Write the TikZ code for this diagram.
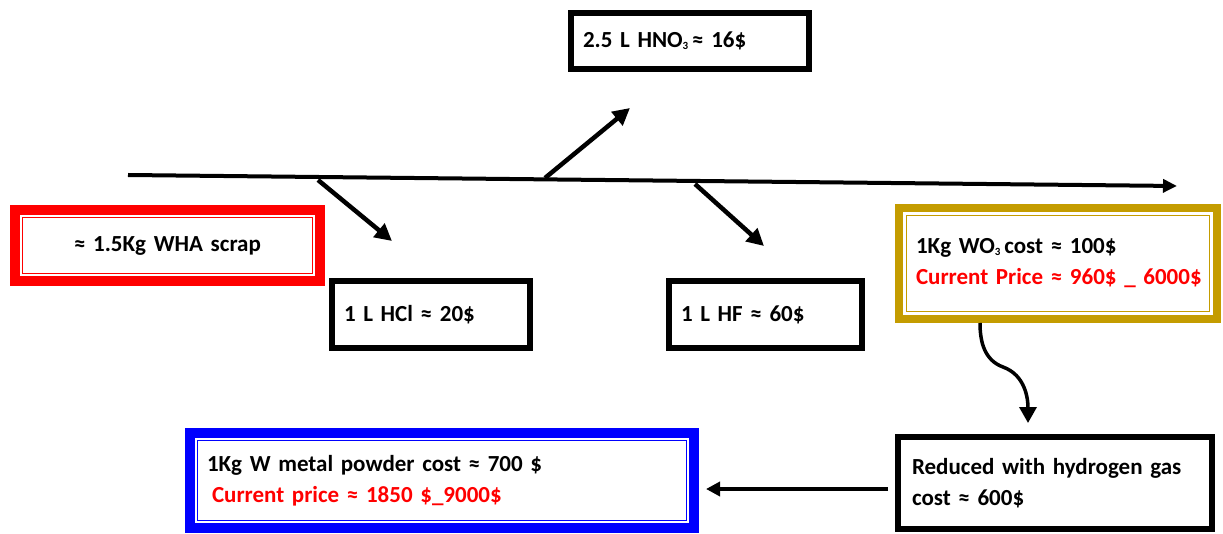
\documentclass[tikz,border=0pt]{standalone}
\usepackage{fontspec}
\setmainfont{Carlito}[WordSpace=0.8]
\usetikzlibrary{arrows.meta}
\definecolor{goldline}{RGB}{196,156,0}
\newcommand{\lowsub}[1]{\raisebox{-1.5pt}{\fontsize{11}{11}\selectfont #1}}
\begin{document}
\begin{tikzpicture}[x=1pt, y=-1pt,
	txt/.style={ align=left, font=\fontsize{23}{31}\selectfont\bfseries },
	box/.style={ txt, draw, line width=6pt, inner xsep=12pt },
	framed/.style 2 args={ txt, draw=#1, line width=#2, inner xsep=17pt,
		path picture={\draw[#1, line width=1.5pt] ([shift={(7.5pt,-7.5pt)}]path picture bounding box.north west) rectangle ([shift={(-7.5pt,7.5pt)}]path picture bounding box.south east);} },
	arr/.style={ line width=4.5pt, -{Triangle[length=17pt,width=17pt]} }
]
\useasboundingbox (0,0) rectangle (1223,534);

\node at (167.5,245.5) (wha) [framed={red}{10pt},minimum width=305pt,minimum height=71pt,text width=271pt,align=center] {≈ 1.5Kg WHA scrap};
\node at (690,41) (hno) [box,minimum width=238pt,minimum height=56pt,text width=214pt,inner xsep=12pt] {2.5 L HNO\lowsub{3}\,≈ 16\$};
\node at (431,314.5) (hcl) [box,minimum width=198pt,minimum height=67pt,text width=174pt] {1 L HCl ≈ 20\$};
\node at (765.5,314.5) (hf) [box,minimum width=193pt,minimum height=67pt,text width=169pt] {1 L HF ≈ 60\$};
\node at (1058,263.5) (wo) [framed={goldline}{8pt},minimum width=318pt,minimum height=111pt,text width=284pt] {1Kg WO\lowsub{3}\,cost ≈ 100\$\\ \mbox{\textcolor{red}{Current Price ≈ 960\$ \_ 6000\$}}};
\node at (1055,483) (rdc) [box,minimum width=314pt,minimum height=92pt,text width=286pt,inner xsep=14pt] {Reduced with hydrogen gas\\ cost ≈ 600\$};
\node at (442,480.5) (wpow) [framed={blue}{10pt},minimum width=504pt,minimum height=95pt,text width=470pt] {1Kg W metal powder cost ≈ 700 \$\\ \hspace*{5pt}\textcolor{red}{Current price ≈ 1850 \$\_9000\$}};

% main line and branches
\coordinate (s0) at (128,175);
\coordinate (s1) at (1177,186);
\draw[line width=4pt, -{Triangle[length=14pt,width=13pt]}] (s0) -- (s1);
\coordinate (b1) at (318,180); \coordinate (t1) at (392,241);
\coordinate (b2) at (545,178); \coordinate (t2) at (630,108);
\coordinate (b3) at (695,184); \coordinate (t3) at (764,246);
\foreach \p/\q in {b1/t1,b2/t2,b3/t3} \draw[arr] (\p) -- (\q);

\coordinate (cm) at (1003,367);
\coordinate (c1) at (1028,423);
\draw[line width=3.5pt, -{Triangle[length=16pt,width=17pt]}] ([xshift=-78pt]wo.south) to [out=-90,in=160] (cm) to [out=-20,in=90] (c1);
\draw[line width=3.5pt, -{Triangle[length=14pt,width=14pt]}] ([xshift=-7pt,yshift=-6pt]rdc.west) -- ([xshift=7pt,yshift=-8.5pt]wpow.east);

\end{tikzpicture}
\end{document}
